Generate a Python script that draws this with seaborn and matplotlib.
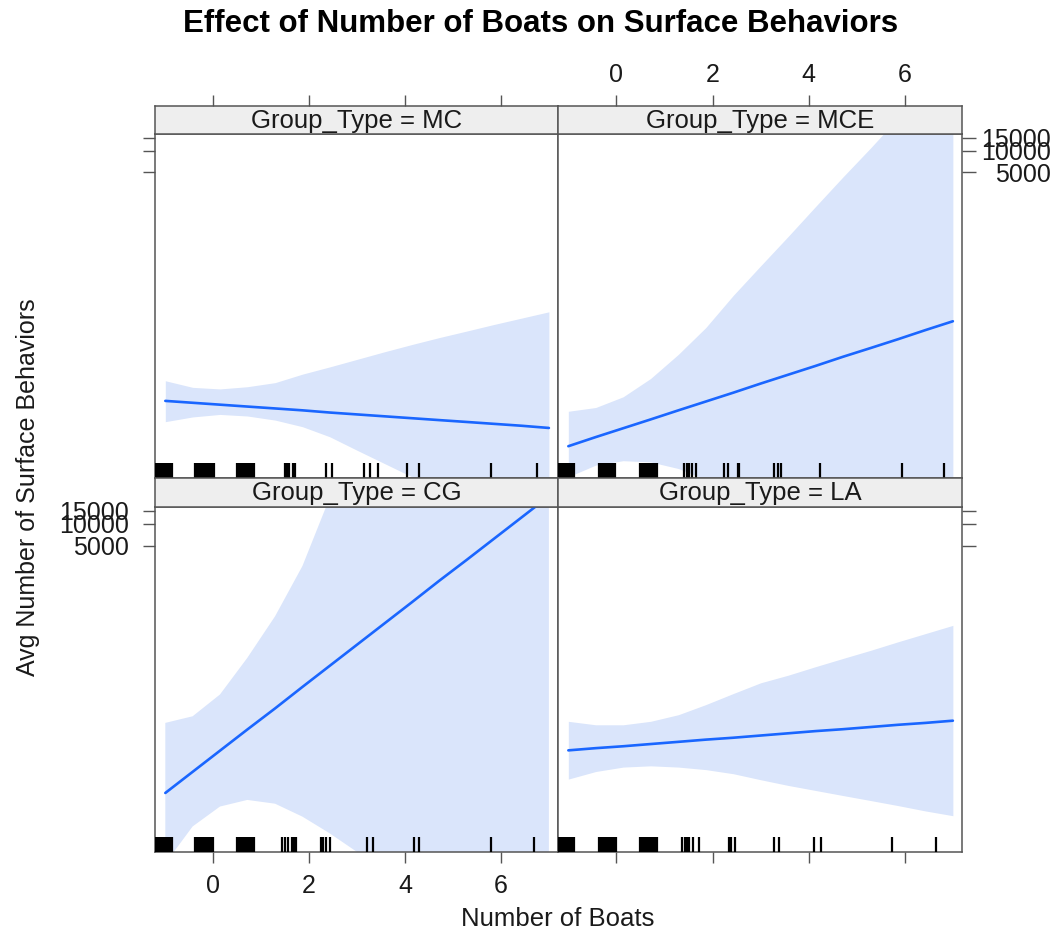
import numpy as np
import pandas as pd
import matplotlib
matplotlib.use("Agg")
import matplotlib.pyplot as plt
import seaborn as sns

# ---------------- data (link / log scale of the average count) ----------------
panels = ["MC", "MCE", "CG", "LA"]
x_grid = [-1.0, -0.43, 0.14, 0.71, 1.29, 1.86, 2.43, 3.0, 3.57, 4.14, 4.71, 5.29, 5.86, 6.43, 7.0]

fit_MC = [1.26, 1.20, 1.14, 1.08, 1.02, 0.96, 0.89, 0.83, 0.77, 0.71, 0.65, 0.59, 0.53, 0.47, 0.40]
upper_MC = [1.90, 1.69, 1.64, 1.71, 1.84, 2.11, 2.34, 2.58, 2.82, 3.05, 3.27, 3.48, 3.69, 3.89, 4.09]
lower_MC = [0.60, 0.75, 0.83, 0.78, 0.65, 0.44, 0.12, -0.31, -0.73, -1.15, -1.58, -2.01, -2.43, -2.86, -3.28]

fit_MCE = [-0.18, 0.11, 0.39, 0.67, 0.96, 1.24, 1.52, 1.81, 2.09, 2.37, 2.66, 2.94, 3.22, 3.51, 3.79]
upper_MCE = [0.93, 1.05, 1.39, 1.97, 2.74, 3.59, 4.61, 5.55, 6.48, 7.43, 8.37, 9.30, 10.25, 11.19, 12.13]
lower_MCE = [-1.15, -0.78, -0.64, -0.68, -0.89, -1.24, -1.56, -1.94, -2.30, -2.69, -3.06, -3.43, -3.80, -4.18, -4.55]

fit_CG = [0.68, 1.35, 2.02, 2.69, 3.36, 4.04, 4.71, 5.38, 6.05, 6.72, 7.40, 8.07, 8.74, 9.41, 10.08]
upper_CG = [2.90, 3.11, 3.80, 4.96, 6.28, 7.87, 10.04, 11.95, 13.88, 15.82, 17.75, 19.68, 21.62, 23.55, 25.49]
lower_CG = [-1.55, -0.38, 0.25, 0.46, 0.34, -0.07, -0.60, -1.19, -1.78, -2.37, -2.96, -3.55, -4.14, -4.73, -5.32]

fit_LA = [2.03, 2.10, 2.16, 2.23, 2.30, 2.37, 2.43, 2.50, 2.57, 2.64, 2.70, 2.77, 2.84, 2.90, 2.97]
upper_LA = [2.95, 2.84, 2.84, 2.95, 3.16, 3.48, 3.83, 4.17, 4.41, 4.68, 4.94, 5.20, 5.47, 5.73, 5.99]
lower_LA = [1.12, 1.36, 1.50, 1.54, 1.50, 1.42, 1.29, 1.10, 0.92, 0.76, 0.60, 0.44, 0.28, 0.11, -0.04]

rug_MC = [-1.19, -1.15, -1.11, -1.07, -1.03, -0.99, -0.95, -0.91, -0.87,
          -0.38, -0.34, -0.30, -0.26, -0.22, -0.18, -0.14, -0.10, -0.06, -0.02, 0.02,
          0.50, 0.54, 0.58, 0.62, 0.66, 0.70, 0.74, 0.78, 0.82, 0.85,
          1.49, 1.54, 1.59, 1.66, 1.70, 2.35, 2.47, 3.15, 3.27, 3.44, 4.04, 4.30, 5.79, 6.76]
rug_MCE = [-1.19, -1.15, -1.11, -1.07, -1.03, -0.99, -0.95, -0.91, -0.89,
           -0.36, -0.32, -0.28, -0.24, -0.20, -0.16, -0.12, -0.08, -0.04, -0.02,
           0.50, 0.54, 0.58, 0.62, 0.66, 0.70, 0.74, 0.78, 0.82, 0.84,
           1.40, 1.46, 1.52, 1.58, 1.65, 2.24, 2.32, 2.53, 2.56, 3.28, 3.36, 3.42, 4.24, 5.94, 6.81]
rug_CG = [-1.19, -1.15, -1.11, -1.07, -1.03, -0.99, -0.95, -0.91, -0.87,
          -0.38, -0.34, -0.30, -0.26, -0.22, -0.18, -0.14, -0.10, -0.06, -0.02, 0.00,
          0.50, 0.54, 0.58, 0.62, 0.66, 0.70, 0.74, 0.78, 0.82, 0.86,
          1.43, 1.50, 1.56, 1.64, 1.68, 1.72, 2.24, 2.29, 2.36, 2.44, 3.20, 3.33, 4.19, 4.30, 5.79, 6.69]
rug_LA = [-1.19, -1.15, -1.11, -1.07, -1.03, -0.99, -0.95, -0.91, -0.89,
          -0.36, -0.32, -0.28, -0.24, -0.20, -0.16, -0.12, -0.08, -0.04, -0.01,
          0.49, 0.53, 0.57, 0.61, 0.65, 0.69, 0.73, 0.77, 0.81, 0.85,
          1.37, 1.42, 1.46, 1.52, 1.59, 1.71, 2.35, 2.39, 2.46, 3.28, 3.38, 4.11, 4.25, 5.74, 6.64]

x_ticks = [0, 2, 4, 6]
y_tick_values = [5000, 10000, 15000]

title = "Effect of Number of Boats on Surface Behaviors"
x_label = "Number of Boats"
y_label = "Avg Number of Surface Behaviors"

# ---------------- tidy frame ----------------
fits = {"MC": fit_MC, "MCE": fit_MCE, "CG": fit_CG, "LA": fit_LA}
uppers = {"MC": upper_MC, "MCE": upper_MCE, "CG": upper_CG, "LA": upper_LA}
lowers = {"MC": lower_MC, "MCE": lower_MCE, "CG": lower_CG, "LA": lower_LA}
rugs = {"MC": rug_MC, "MCE": rug_MCE, "CG": rug_CG, "LA": rug_LA}
df = pd.concat([pd.DataFrame({"Group_Type": p, "x": x_grid, "fit": fits[p],
                              "lower": lowers[p], "upper": uppers[p]}) for p in panels],
               ignore_index=True)

# ---------------- style ----------------
sns.set_theme(style="white")
plt.rcParams['font.family'] = ['Liberation Sans', 'DejaVu Sans']
LINE = "#1A66FF"
BAND = "#DAE5FB"
FRAME = "#555555"
TXT = "#1a1a1a"

W, H = 1063, 934
fig = plt.figure(figsize=(W / 100, H / 100), dpi=100)
fig.patch.set_facecolor("white")

def rect(l, t, r, b):
    return [l / W, 1 - b / H, (r - l) / W, (b - t) / H]

layout = {
    "MC": dict(panel=(155, 134, 558, 478), strip=(155, 105.5, 558, 134), row=0, col=0),
    "MCE": dict(panel=(558, 134, 962, 478), strip=(558, 105.5, 962, 134), row=0, col=1),
    "CG": dict(panel=(155, 507, 558, 852), strip=(155, 478, 558, 507), row=1, col=0),
    "LA": dict(panel=(558, 507, 962, 852), strip=(558, 478, 962, 507), row=1, col=1),
}

XLIM = (-1.215, 7.19)
YLIM = (-1.19, 9.74)
ytick_pos = np.log(y_tick_values)
ytick_lab = [str(v) for v in y_tick_values]

for p in panels:
    L = layout[p]
    ax = fig.add_axes(rect(*L["panel"]))
    d = df[df["Group_Type"] == p]
    ax.fill_between(d["x"], d["lower"], d["upper"], color=BAND, lw=0, zorder=1)
    sns.lineplot(data=d, x="x", y="fit", ax=ax, color=LINE, linewidth=1.9, zorder=3)
    sns.rugplot(x=rugs[p], ax=ax, height=0.044, color="black", linewidth=1.6,
                expand_margins=False, zorder=4)
    ax.set_xlim(*XLIM)
    ax.set_ylim(*YLIM)
    ax.set_xlabel("")
    ax.set_ylabel("")
    for s in ax.spines.values():
        s.set_color(FRAME)
        s.set_linewidth(1.1)
    ax.set_facecolor("white")

    # x ticks
    ax.set_xticks(x_ticks)
    if L["row"] == 1:
        ax.tick_params(axis="x", bottom=True, top=False, labelbottom=(L["col"] == 0),
                       labeltop=False, direction="out", length=8, width=1,
                       color=FRAME, pad=8, labelsize=18, labelcolor=TXT)
    else:
        ax.tick_params(axis="x", bottom=False, top=False, labelbottom=False, labeltop=False)

    # y ticks
    ax.set_yticks(ytick_pos)
    ax.set_yticklabels(ytick_lab)
    if L["col"] == 0:
        ax.tick_params(axis="y", left=True, right=False, labelleft=(L["row"] == 1),
                       labelright=False, direction="out", length=9, width=1,
                       color=FRAME, pad=10, labelsize=18, labelcolor=TXT)
    else:
        ax.tick_params(axis="y", left=False, right=True, labelleft=False,
                       labelright=(L["row"] == 0), direction="out", length=10, width=1,
                       color=FRAME, pad=54, labelsize=18, labelcolor=TXT)
        for lab in ax.get_yticklabels():
            lab.set_horizontalalignment("right")

    # strip
    axs = fig.add_axes(rect(*L["strip"]))
    axs.set_facecolor("#EEEEEE")
    axs.set_xlim(*XLIM)
    axs.set_ylim(0, 1)
    axs.set_yticks([])
    for s in axs.spines.values():
        s.set_color(FRAME)
        s.set_linewidth(1.1)
    axs.set_xticks(x_ticks)
    if L["row"] == 0:
        axs.tick_params(axis="x", top=True, bottom=False, labeltop=(L["col"] == 1),
                        labelbottom=False, direction="out", length=8, width=1,
                        color=FRAME, pad=5, labelsize=18, labelcolor=TXT)
    else:
        axs.tick_params(axis="x", top=False, bottom=False, labeltop=False, labelbottom=False)
    axs.text(0.5, 0.47, f"Group_Type = {p}", ha="center", va="center",
             fontsize=18.5, color=TXT, transform=axs.transAxes)

fig.text(541 / W, 1 - 24 / H, title, ha="center", va="center",
         fontsize=22.5, fontweight="bold", color="black")
fig.text(558 / W, 1 - 919 / H, x_label, ha="center", va="center", fontsize=18.5, color=TXT)
fig.text(28 / W, 1 - 487 / H, y_label, ha="center", va="center", rotation=90,
         fontsize=18, color=TXT)

fig.savefig("out.png", dpi=100, facecolor="white")
